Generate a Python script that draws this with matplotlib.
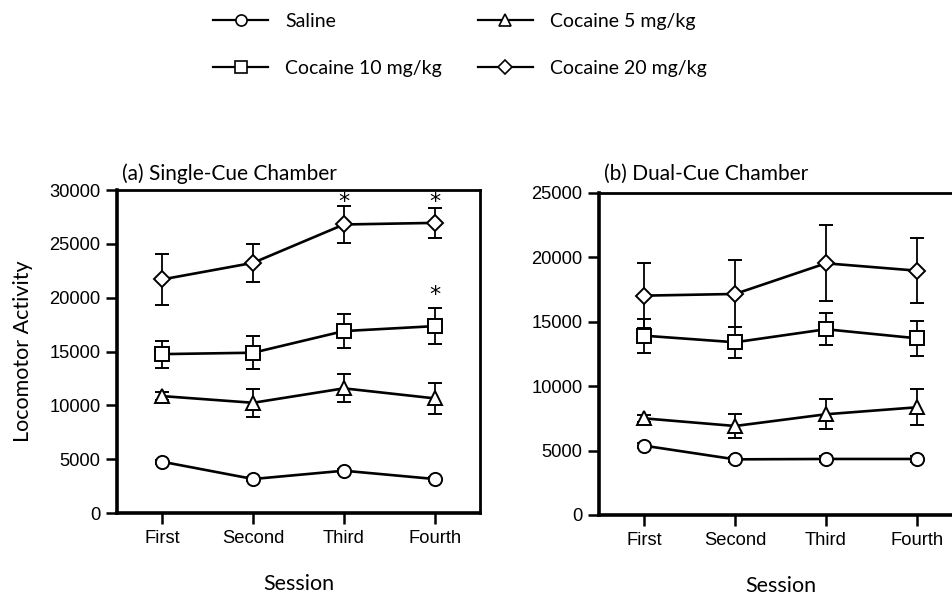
import numpy as np
import matplotlib.pyplot as plt

# Sessions and group means / SEM
sessions = ["First", "Second", "Third", "Fourth"]
groups = ["Saline", "Cocaine 5 mg/kg", "Cocaine 10 mg/kg", "Cocaine 20 mg/kg"]
markers = ["o", "^", "s", "D"]

# (a) Single-Cue Chamber
single_saline = [4760, 3160, 3930, 3160]
single_coc5 = [10860, 10240, 11580, 10650]
single_coc10 = [14760, 14890, 16900, 17360]
single_coc20 = [21700, 23240, 26800, 26950]
single_saline_err = [200, 200, 200, 200]
single_coc5_err = [400, 1300, 1300, 1450]
single_coc10_err = [1250, 1550, 1550, 1700]
single_coc20_err = [2350, 1750, 1700, 1400]

# (b) Dual-Cue Chamber
dual_saline = [5380, 4320, 4350, 4350]
dual_coc5 = [7500, 6910, 7820, 8360]
dual_coc10 = [13920, 13410, 14420, 13720]
dual_coc20 = [17030, 17160, 19540, 18970]
dual_saline_err = [200, 200, 200, 200]
dual_coc5_err = [300, 950, 1180, 1400]
dual_coc10_err = [1320, 1200, 1250, 1370]
dual_coc20_err = [2500, 2600, 2950, 2550]

# significance asterisks: session index and height (data units)
single_star_session = [2, 3, 3]
single_star_y = [29100, 29100, 20400]

title_font = ["Lato", "DejaVu Sans"]
tick_font = "Liberation Sans"
tick_fs = 13.2
label_fs = 15.5

fig = plt.figure(figsize=(9.52, 5.98), dpi=100)
ax1 = fig.add_axes([0.1229, 0.1421, 0.3813, 0.5401])
ax2 = fig.add_axes([0.6292, 0.1388, 0.3813, 0.5385])

x = np.arange(1, len(sessions) + 1)


def draw(ax, means, errs, ymax, title, title_pad):
    for m, e, mk, lab in zip(means, errs, markers, groups):
        ms = 8 if mk == "D" else 9.5
        ax.errorbar(x, m, yerr=e, color="black", lw=1.9, marker=mk,
                    ms=ms, mfc="white", mec="black", mew=1.4,
                    ecolor="black", elinewidth=1.3, capsize=5, capthick=1.3,
                    label=lab)
    ax.set_xlim(0.5, 4.5)
    ax.set_ylim(0, ymax)
    ax.set_yticks(np.arange(0, ymax + 1, 5000))
    ax.set_xticks(x)
    ax.set_xticklabels(sessions)
    for lbl in ax.get_xticklabels() + ax.get_yticklabels():
        lbl.set_fontfamily(tick_font)
        lbl.set_fontsize(tick_fs)
    ax.tick_params(direction="out", length=8, width=1.8, pad=4)
    for side in ["left", "bottom"]:
        ax.spines[side].set_linewidth(2.6)
    for side in ["top", "right"]:
        ax.spines[side].set_linewidth(2.0)
    ax.set_title(title, loc="left", fontsize=15, fontfamily=title_font,
                 pad=title_pad, x=0.014)
    ax.set_xlabel("Session", fontsize=label_fs, fontfamily=title_font,
                  labelpad=20)


draw(ax1,
     [single_saline, single_coc5, single_coc10, single_coc20],
     [single_saline_err, single_coc5_err, single_coc10_err, single_coc20_err],
     30000, "(a) Single-Cue Chamber", 7)
draw(ax2,
     [dual_saline, dual_coc5, dual_coc10, dual_coc20],
     [dual_saline_err, dual_coc5_err, dual_coc10_err, dual_coc20_err],
     25000, "(b) Dual-Cue Chamber", 9.2)

for s, sy in zip(single_star_session, single_star_y):
    ax1.text(x[s], sy, "*", ha="center", va="center_baseline",
             fontsize=16, fontfamily="DejaVu Sans")

ax1.set_ylabel("Locomotor Activity", fontsize=label_fs, fontfamily=title_font,
               labelpad=12)

# legend: row 1 Saline / Coc 5, row 2 Coc 10 / Coc 20
order = [0, 2, 1, 3]
leg_handles = []
for i in order:
    mk = markers[i]
    lh, = ax1.plot([], [], color="black", lw=1.6, marker=mk,
                   ms=8 if mk != "D" else 7, mfc="white", mec="black", mew=1.2)
    leg_handles.append(lh)
fig.legend(leg_handles, [groups[i] for i in order], ncol=2,
           loc="upper left", bbox_to_anchor=(213 / 952, 0.978), frameon=False,
           prop={"family": title_font, "size": 14},
           borderpad=0, borderaxespad=0,
           handlelength=2.85, handletextpad=0.85, columnspacing=1.85,
           labelspacing=1.55)

fig.savefig("out.png", dpi=100)
